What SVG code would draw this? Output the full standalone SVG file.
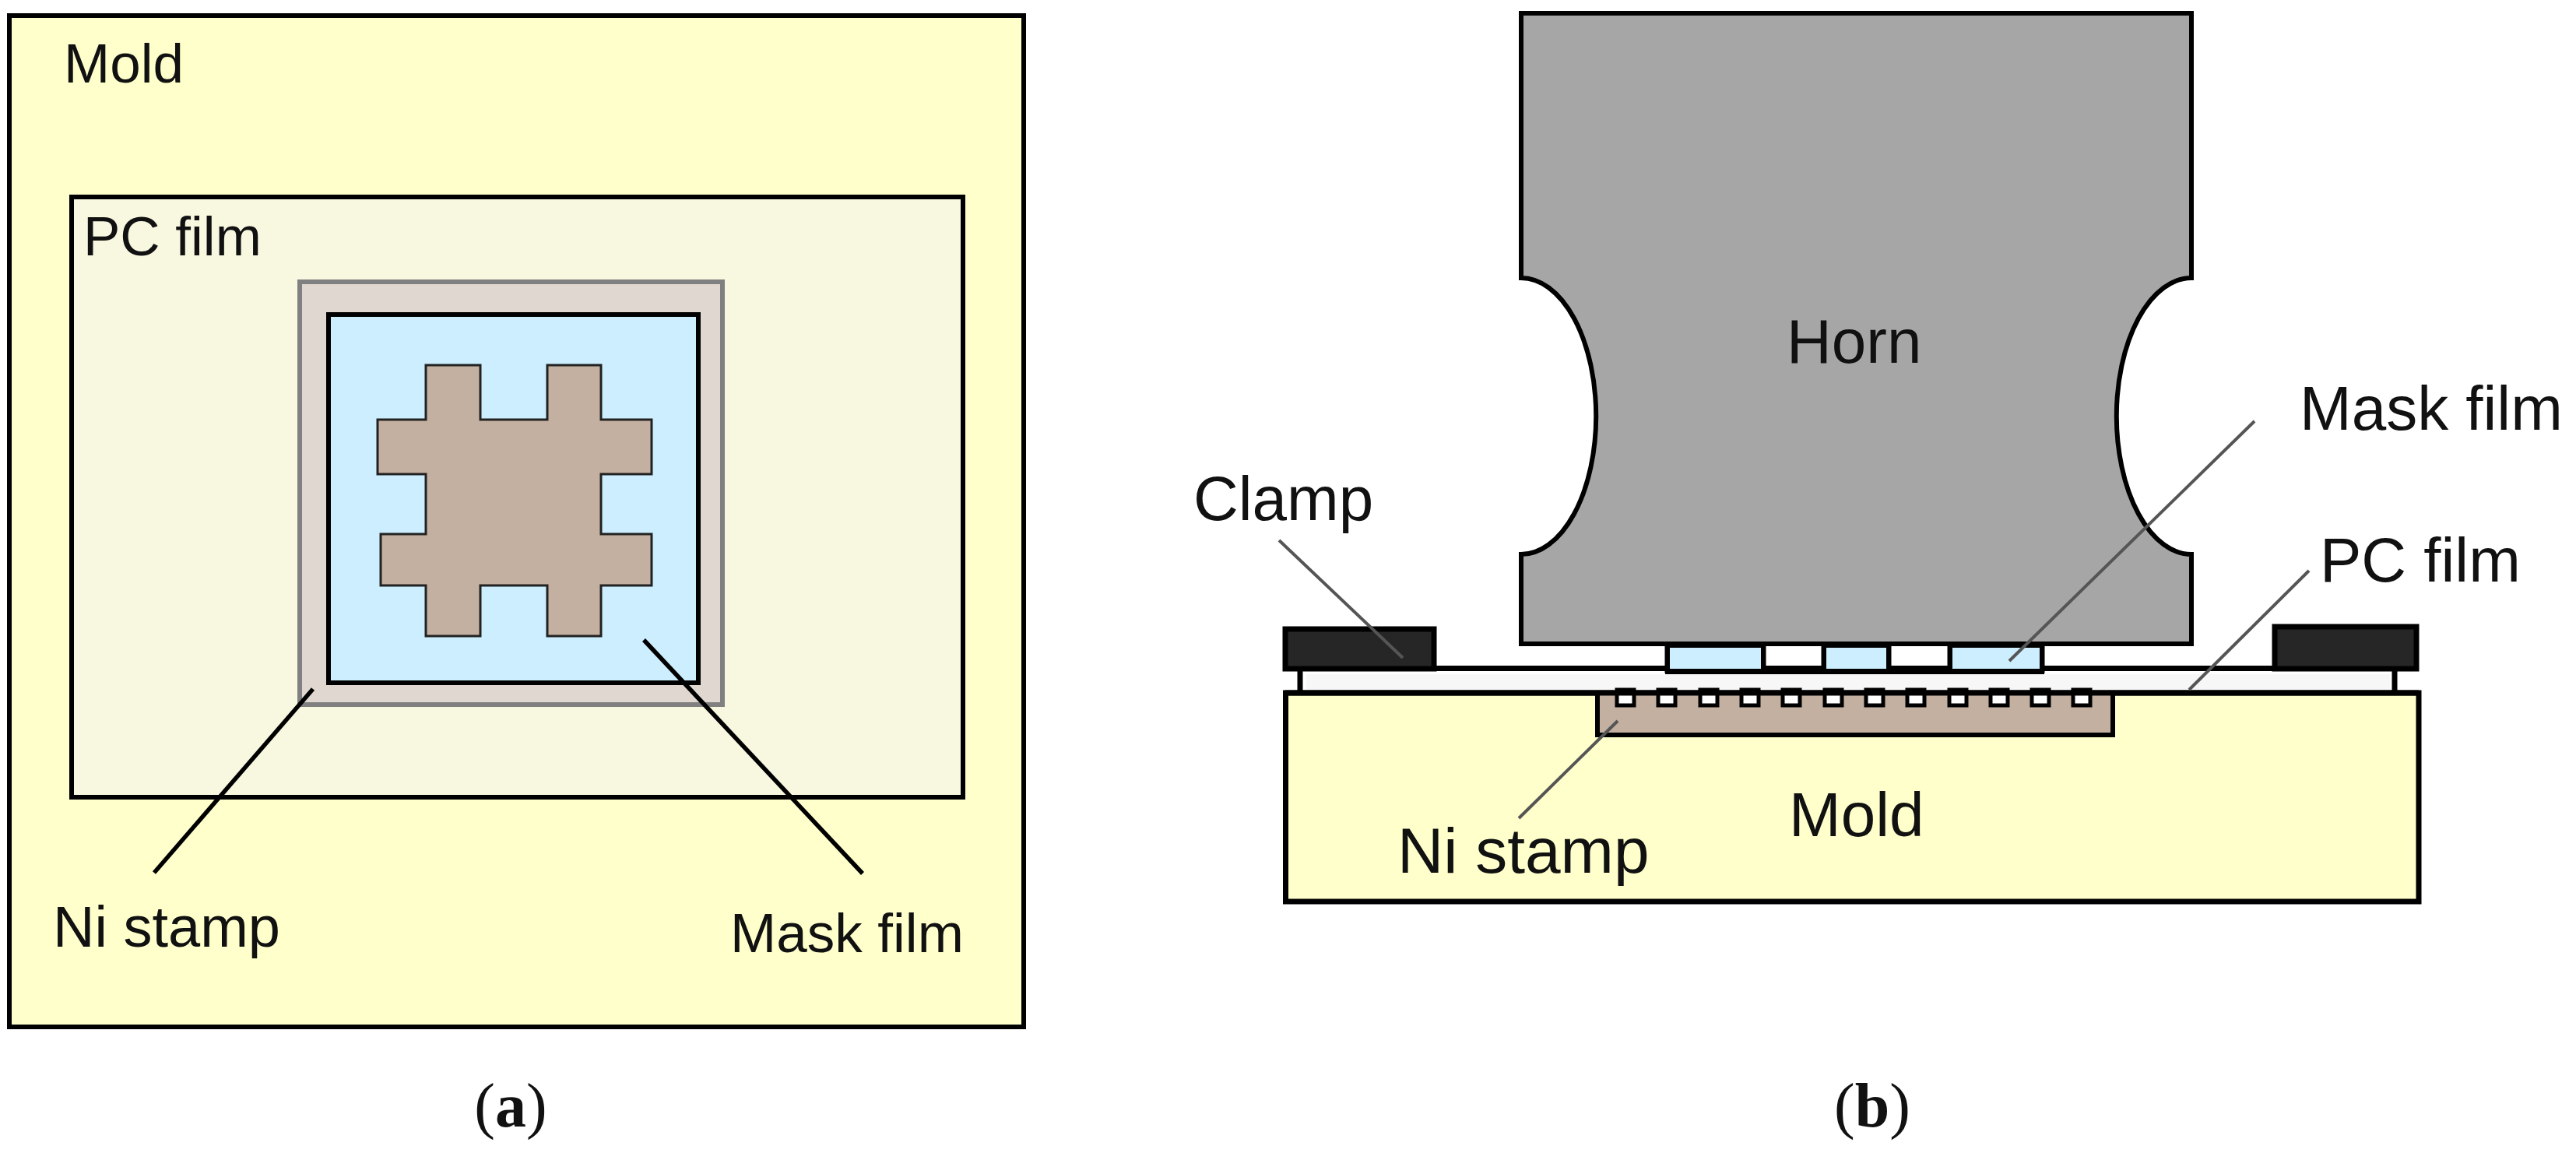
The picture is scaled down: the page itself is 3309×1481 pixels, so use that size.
<svg xmlns="http://www.w3.org/2000/svg" width="3309" height="1481" viewBox="0 0 3309 1481">
<style>
.t{font-family:"Liberation Sans",Arial,sans-serif;font-size:71px;fill:#111}
.b{font-size:80px}
.c{font-family:"Liberation Serif","Times New Roman",serif;font-size:80px;fill:#111}
.k{stroke:#000;stroke-width:6}
.lead{stroke:#555;stroke-width:4;fill:none}
.leadk{stroke:#000;stroke-width:5.500;fill:none}
.tooth{fill:#fff;stroke:#000;stroke-width:5}
</style>
<rect width="3309" height="1481" fill="#fff"/>
<g id="panel-a">
<g id="a-mold"><rect class="k" x="12" y="20" width="1303" height="1299" fill="#ffffcc"/><text class="t" x="82" y="106">Mold</text></g>
<g id="a-pc-film"><rect class="k" x="92" y="253" width="1145" height="771" fill="#f8f7e0"/><text class="t" x="107" y="328">PC film</text></g>
<g id="a-ni-stamp"><rect x="385" y="362" width="543" height="543" fill="#e0d8d0" stroke="#808080" stroke-width="6"/></g>
<g id="a-mask-film"><rect class="k" x="422" y="404" width="475" height="473" fill="#cceeff"/>
<path d="M547 469H617V539H703V469H772V539H837V609H772V686H837V752H772V817H703V752H617V817H547V752H489V686H547V609H485V539H547Z" fill="#c4b0a0" stroke="#222" stroke-width="3"/></g>
<g id="a-labels"><text class="t" x="68" y="1216" style="font-size:74px">Ni stamp</text><text class="t" x="938" y="1223">Mask film</text>
<text class="c" x="656" y="1447" text-anchor="middle">(<tspan font-weight="bold">a</tspan>)</text></g>
</g>
<g id="panel-b">
<g id="b-horn"><path class="k" d="M1954 17H2815V357A96 177 0 0 0 2815 712V827H1954V712A96 177 0 0 0 1954 357Z" fill="#a6a6a6"/><text class="t b" x="2295" y="466">Horn</text></g>
<g id="b-pc-film"><rect x="1678" y="866" width="1392" height="22" fill="#f7f7f7"/>
<path d="M1845 858.500H2919M1670 862V888M3076 862V888" stroke="#000" stroke-width="7" fill="none"/></g>
<g id="b-mask-film"><rect x="2139" y="855" width="487" height="11"/>
<rect x="2142" y="829" width="123" height="32" fill="#cceeff" stroke="#000" stroke-width="7"/>
<rect x="2343" y="829" width="83" height="32" fill="#cceeff" stroke="#000" stroke-width="7"/>
<rect x="2505" y="829" width="118" height="32" fill="#cceeff" stroke="#000" stroke-width="7"/>
<rect x="2145" y="832" width="117" height="27" fill="#cceeff"/><rect x="2346" y="832" width="77" height="27" fill="#cceeff"/><rect x="2508" y="832" width="112" height="27" fill="#cceeff"/></g>
<g id="b-clamps"><rect x="1651" y="808" width="191" height="51" fill="#262626" stroke="#000" stroke-width="7"/><rect x="2922" y="805" width="182" height="54" fill="#262626" stroke="#000" stroke-width="7"/></g>
<g id="b-mold"><rect x="1651.500" y="890" width="1455.500" height="268" fill="#ffffcc" stroke="#000" stroke-width="7"/><text class="t b" x="2298" y="1074">Mold</text></g>
<g id="b-ni-stamp"><path d="M2052 890V944H2714V890" fill="#c4b0a0" stroke="#000" stroke-width="6"/>
<g id="teeth"><rect class="tooth" x="2077" y="886" width="22" height="20"/><rect class="tooth" x="2130" y="886" width="22" height="20"/><rect class="tooth" x="2184" y="886" width="22" height="20"/><rect class="tooth" x="2237" y="886" width="22" height="20"/><rect class="tooth" x="2290" y="886" width="22" height="20"/><rect class="tooth" x="2344" y="886" width="22" height="20"/><rect class="tooth" x="2397" y="886" width="22" height="20"/><rect class="tooth" x="2450" y="886" width="22" height="20"/><rect class="tooth" x="2504" y="886" width="22" height="20"/><rect class="tooth" x="2557" y="886" width="22" height="20"/><rect class="tooth" x="2610" y="886" width="22" height="20"/><rect class="tooth" x="2663" y="886" width="22" height="20"/></g>
<path d="M1651 890H3107" stroke="#000" stroke-width="7"/></g>
<g id="b-labels"><text class="t b" x="2954" y="552">Mask film</text><text class="t b" x="1533" y="668">Clamp</text><text class="t b" x="2980" y="747">PC film</text><text class="t" x="1795" y="1121" style="font-size:82px">Ni stamp</text>
<text class="c" x="2405" y="1447" text-anchor="middle">(<tspan font-weight="bold">b</tspan>)</text></g>
</g>
<g id="connectors">
<line class="leadk" x1="402" y1="885" x2="198" y2="1121"/>
<line class="leadk" x1="827" y1="822" x2="1108" y2="1122"/>
<line class="lead" x1="1643" y1="694" x2="1802" y2="845"/>
<line class="lead" x1="2896" y1="541" x2="2581" y2="849"/>
<line class="lead" x1="2966" y1="733" x2="2812" y2="886"/>
<line class="lead" x1="2078" y1="926" x2="1951" y2="1051"/>
</g>
</svg>
